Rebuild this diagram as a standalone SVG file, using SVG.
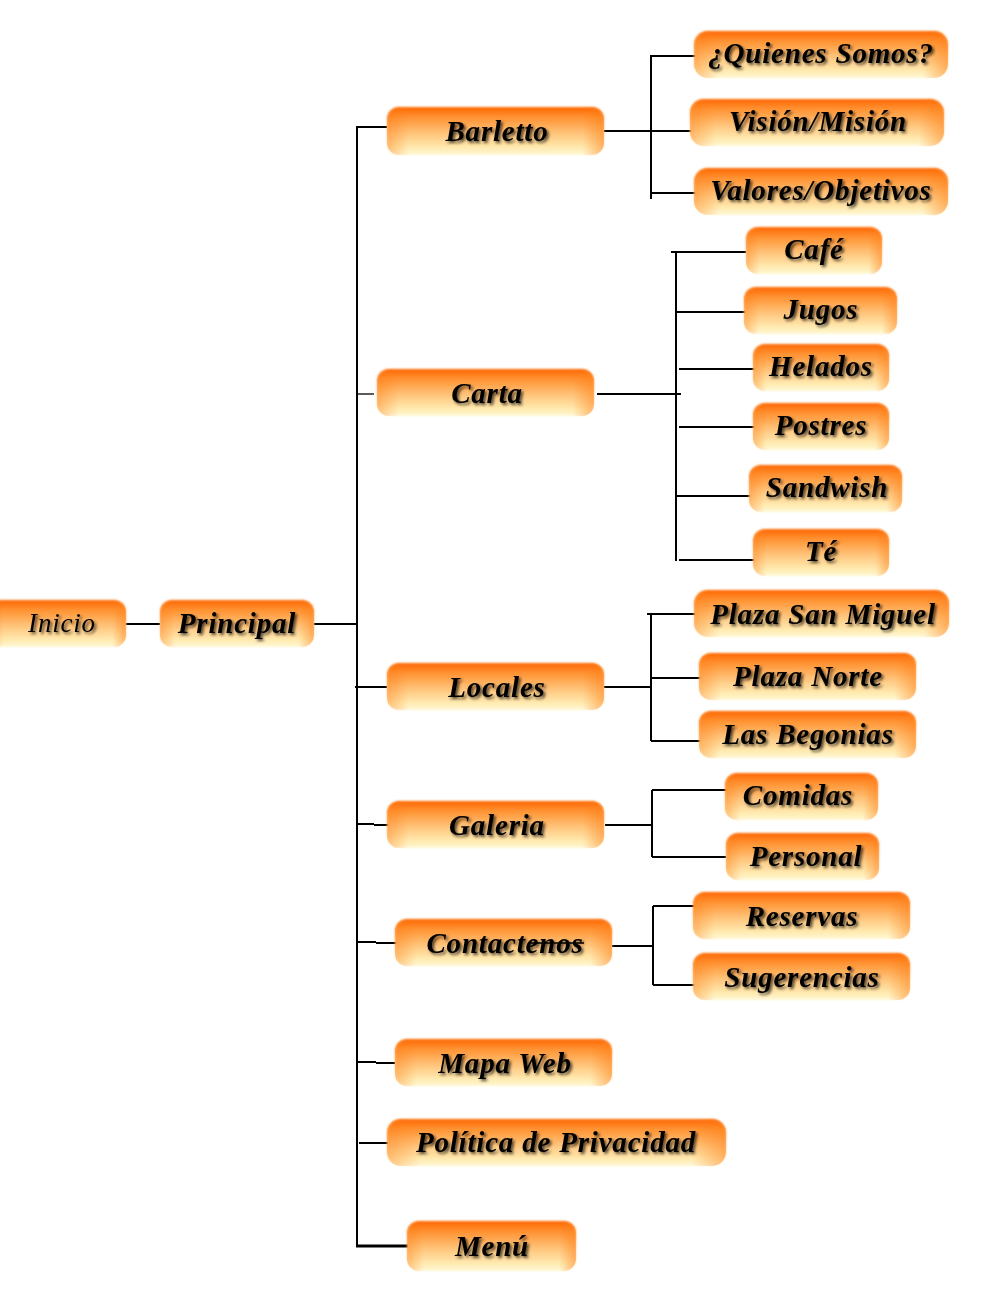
<svg xmlns="http://www.w3.org/2000/svg" width="1000" height="1300" viewBox="0 0 1000 1300">
<style>
.box{fill:url(#gv);filter:url(#soft)}
.side{fill:url(#gh)}
.t{font-family:"Liberation Serif","Times New Roman",serif;font-size:29px;letter-spacing:0.8px;font-weight:bold;font-style:italic;fill:#000;text-anchor:middle;filter:url(#tshadow)}
.c{stroke:#000;stroke-width:2;fill:none}
.thin{stroke:#000;stroke-width:1.3;fill:none}
</style>
<defs>
<linearGradient id="gv" x1="0" y1="0" x2="0" y2="1">
<stop offset="0" stop-color="#FF6600"/>
<stop offset="0.2" stop-color="#FF9030"/>
<stop offset="0.55" stop-color="#FFC47A"/>
<stop offset="0.85" stop-color="#FFEAB0"/>
<stop offset="1" stop-color="#FFF8D5"/>
</linearGradient>
<linearGradient id="gh" x1="0" y1="0" x2="1" y2="0">
<stop offset="0" stop-color="#FF7A10" stop-opacity="0.4"/>
<stop offset="0.1" stop-color="#FF7A10" stop-opacity="0"/>
<stop offset="0.9" stop-color="#FF7A10" stop-opacity="0"/>
<stop offset="1" stop-color="#FF7A10" stop-opacity="0.5"/>
</linearGradient>
<filter id="soft" x="-5%" y="-10%" width="110%" height="120%">
<feGaussianBlur stdDeviation="0.8"/>
</filter>
<filter id="tshadow" x="-10%" y="-30%" width="120%" height="160%">
<feGaussianBlur in="SourceAlpha" stdDeviation="1.8" result="b"/>
<feOffset in="b" dx="1.5" dy="2" result="o"/>
<feComponentTransfer in="o" result="s"><feFuncA type="linear" slope="0.7"/></feComponentTransfer>
<feMerge><feMergeNode in="s"/><feMergeNode in="SourceGraphic"/></feMerge>
</filter>
</defs>
<rect width="1000" height="1300" fill="#fff"/>

<g id="connectors">
<line class="c" x1="126" y1="624" x2="160" y2="624"/>
<line class="c" x1="314" y1="624" x2="357" y2="624"/>
<line class="c" x1="357" y1="126" x2="357" y2="1247"/>
<line class="c" x1="356" y1="127" x2="387" y2="127"/>
<line class="thin" x1="357" y1="394" x2="374" y2="394"/>
<line class="c" x1="355" y1="687" x2="387" y2="687"/>
<line class="c" x1="357" y1="824" x2="374" y2="824"/>
<line class="c" x1="374" y1="825" x2="390" y2="825"/>
<line class="c" x1="357" y1="942" x2="376" y2="942"/>
<line class="c" x1="376" y1="943" x2="397" y2="943"/>
<line class="c" x1="357" y1="1062" x2="376" y2="1062"/>
<line class="c" x1="376" y1="1063" x2="395" y2="1063"/>
<line class="c" x1="359" y1="1143" x2="388" y2="1143"/>
<line stroke="#000" stroke-width="3" x1="356" y1="1246" x2="408" y2="1246"/>
<!-- Barletto -->
<line class="c" x1="604" y1="131" x2="700" y2="131"/>
<line class="c" x1="651" y1="55" x2="651" y2="199"/>
<line class="c" x1="650" y1="56" x2="700" y2="56"/>
<line class="c" x1="650" y1="193" x2="700" y2="193"/>
<!-- Carta -->
<line class="c" x1="597" y1="394" x2="681" y2="394"/>
<line class="c" x1="676" y1="252" x2="676" y2="561"/>
<line class="c" x1="671" y1="252" x2="746" y2="252"/>
<line class="c" x1="676" y1="312" x2="751" y2="312"/>
<line class="c" x1="679" y1="369" x2="755" y2="369"/>
<line class="c" x1="679" y1="427" x2="755" y2="427"/>
<line class="c" x1="676" y1="496" x2="751" y2="496"/>
<line class="c" x1="679" y1="560" x2="755" y2="560"/>
<!-- Locales -->
<line class="c" x1="604" y1="687" x2="651" y2="687"/>
<line class="c" x1="651" y1="614" x2="651" y2="741"/>
<line class="c" x1="647" y1="614" x2="703" y2="614"/>
<line class="c" x1="650" y1="678" x2="703" y2="678"/>
<line class="c" x1="651" y1="741" x2="704" y2="741"/>
<!-- Galeria -->
<line class="c" x1="605" y1="825" x2="652" y2="825"/>
<line class="c" x1="652" y1="790" x2="652" y2="857"/>
<line class="c" x1="652" y1="790" x2="727" y2="790"/>
<line class="c" x1="652" y1="857" x2="726" y2="857"/>
<!-- Contactenos -->
<line class="c" x1="612" y1="946" x2="653" y2="946"/>
<line class="c" x1="653" y1="906" x2="653" y2="985"/>
<line class="c" x1="653" y1="906" x2="697" y2="906"/>
<line class="c" x1="653" y1="985" x2="697" y2="985"/>
</g>

<g id="n-inicio"><rect class="box" x="-10" y="600" width="136" height="47" rx="12"/><rect class="side" x="-10" y="600" width="136" height="47" rx="12"/><text class="t" x="62" y="632" style="font-weight:normal;font-size:27px">Inicio</text></g>
<g id="n-principal"><rect class="box" x="160" y="600" width="154" height="47" rx="12"/><rect class="side" x="160" y="600" width="154" height="47" rx="12"/><text class="t" x="237" y="633">Principal</text></g>

<g id="n-barletto"><rect class="box" x="387" y="107" width="217" height="48" rx="12"/><rect class="side" x="387" y="107" width="217" height="48" rx="12"/><text class="t" x="497" y="141">Barletto</text></g>
<g id="n-carta"><rect class="box" x="377" y="369" width="217" height="47" rx="12"/><rect class="side" x="377" y="369" width="217" height="47" rx="12"/><text class="t" x="487" y="403">Carta</text></g>
<g id="n-locales"><rect class="box" x="387" y="663" width="217" height="47" rx="12"/><rect class="side" x="387" y="663" width="217" height="47" rx="12"/><text class="t" x="497" y="697">Locales</text></g>
<g id="n-galeria"><rect class="box" x="387" y="801" width="217" height="47" rx="12"/><rect class="side" x="387" y="801" width="217" height="47" rx="12"/><text class="t" x="497" y="835">Galeria</text></g>
<g id="n-contactenos"><rect class="box" x="395" y="919" width="217" height="47" rx="12"/><rect class="side" x="395" y="919" width="217" height="47" rx="12"/><text class="t" x="505" y="953">Contactenos</text></g>
<g id="n-mapaweb"><rect class="box" x="395" y="1039" width="217" height="47" rx="12"/><rect class="side" x="395" y="1039" width="217" height="47" rx="12"/><text class="t" x="505" y="1073">Mapa Web</text></g>
<g id="n-politica"><rect class="box" x="387" y="1119" width="339" height="47" rx="14"/><rect class="side" x="387" y="1119" width="339" height="47" rx="14"/><text class="t" x="556" y="1152">Política de Privacidad</text></g>
<g id="n-menu"><rect class="box" x="407" y="1221" width="169" height="50" rx="12"/><rect class="side" x="407" y="1221" width="169" height="50" rx="12"/><text class="t" x="492" y="1256">Menú</text></g>

<g id="n-quienes"><rect class="box" x="694" y="31" width="254" height="47" rx="14"/><rect class="side" x="694" y="31" width="254" height="47" rx="14"/><text class="t" x="821" y="63">¿Quienes Somos?</text></g>
<g id="n-vision"><rect class="box" x="690" y="99" width="254" height="47" rx="14"/><rect class="side" x="690" y="99" width="254" height="47" rx="14"/><text class="t" x="818" y="131">Visión/Misión</text></g>
<g id="n-valores"><rect class="box" x="694" y="168" width="254" height="47" rx="14"/><rect class="side" x="694" y="168" width="254" height="47" rx="14"/><text class="t" x="821" y="200">Valores/Objetivos</text></g>

<g id="n-cafe"><rect class="box" x="746" y="227" width="136" height="47" rx="12"/><rect class="side" x="746" y="227" width="136" height="47" rx="12"/><text class="t" x="814" y="259">Café</text></g>
<g id="n-jugos"><rect class="box" x="744" y="287" width="153" height="47" rx="12"/><rect class="side" x="744" y="287" width="153" height="47" rx="12"/><text class="t" x="821" y="319">Jugos</text></g>
<g id="n-helados"><rect class="box" x="753" y="344" width="136" height="47" rx="12"/><rect class="side" x="753" y="344" width="136" height="47" rx="12"/><text class="t" x="821" y="376">Helados</text></g>
<g id="n-postres"><rect class="box" x="753" y="403" width="136" height="47" rx="12"/><rect class="side" x="753" y="403" width="136" height="47" rx="12"/><text class="t" x="821" y="435">Postres</text></g>
<g id="n-sandwish"><rect class="box" x="749" y="465" width="153" height="47" rx="12"/><rect class="side" x="749" y="465" width="153" height="47" rx="12"/><text class="t" x="827" y="497">Sandwish</text></g>
<g id="n-te"><rect class="box" x="753" y="529" width="136" height="47" rx="12"/><rect class="side" x="753" y="529" width="136" height="47" rx="12"/><text class="t" x="821" y="561">Té</text></g>

<g id="n-sanmiguel"><rect class="box" x="694" y="590" width="255" height="47" rx="14"/><rect class="side" x="694" y="590" width="255" height="47" rx="14"/><text class="t" x="823" y="624">Plaza San Miguel</text></g>
<g id="n-norte"><rect class="box" x="699" y="653" width="217" height="47" rx="12"/><rect class="side" x="699" y="653" width="217" height="47" rx="12"/><text class="t" x="808" y="686">Plaza Norte</text></g>
<g id="n-begonias"><rect class="box" x="699" y="711" width="217" height="47" rx="12"/><rect class="side" x="699" y="711" width="217" height="47" rx="12"/><text class="t" x="808" y="744">Las Begonias</text></g>

<g id="n-comidas"><rect class="box" x="725" y="773" width="153" height="47" rx="12"/><rect class="side" x="725" y="773" width="153" height="47" rx="12"/><text class="t" x="798" y="805">Comidas</text></g>
<g id="n-personal"><rect class="box" x="726" y="833" width="153" height="47" rx="12"/><rect class="side" x="726" y="833" width="153" height="47" rx="12"/><text class="t" x="806" y="866">Personal</text></g>

<g id="n-reservas"><rect class="box" x="693" y="892" width="217" height="47" rx="12"/><rect class="side" x="693" y="892" width="217" height="47" rx="12"/><text class="t" x="802" y="926">Reservas</text></g>
<g id="n-sugerencias"><rect class="box" x="693" y="953" width="217" height="47" rx="12"/><rect class="side" x="693" y="953" width="217" height="47" rx="12"/><text class="t" x="802" y="987">Sugerencias</text></g>

<g id="connectors-over">
<line class="thin" x1="530" y1="943" x2="584" y2="943"/>
</g>
</svg>
